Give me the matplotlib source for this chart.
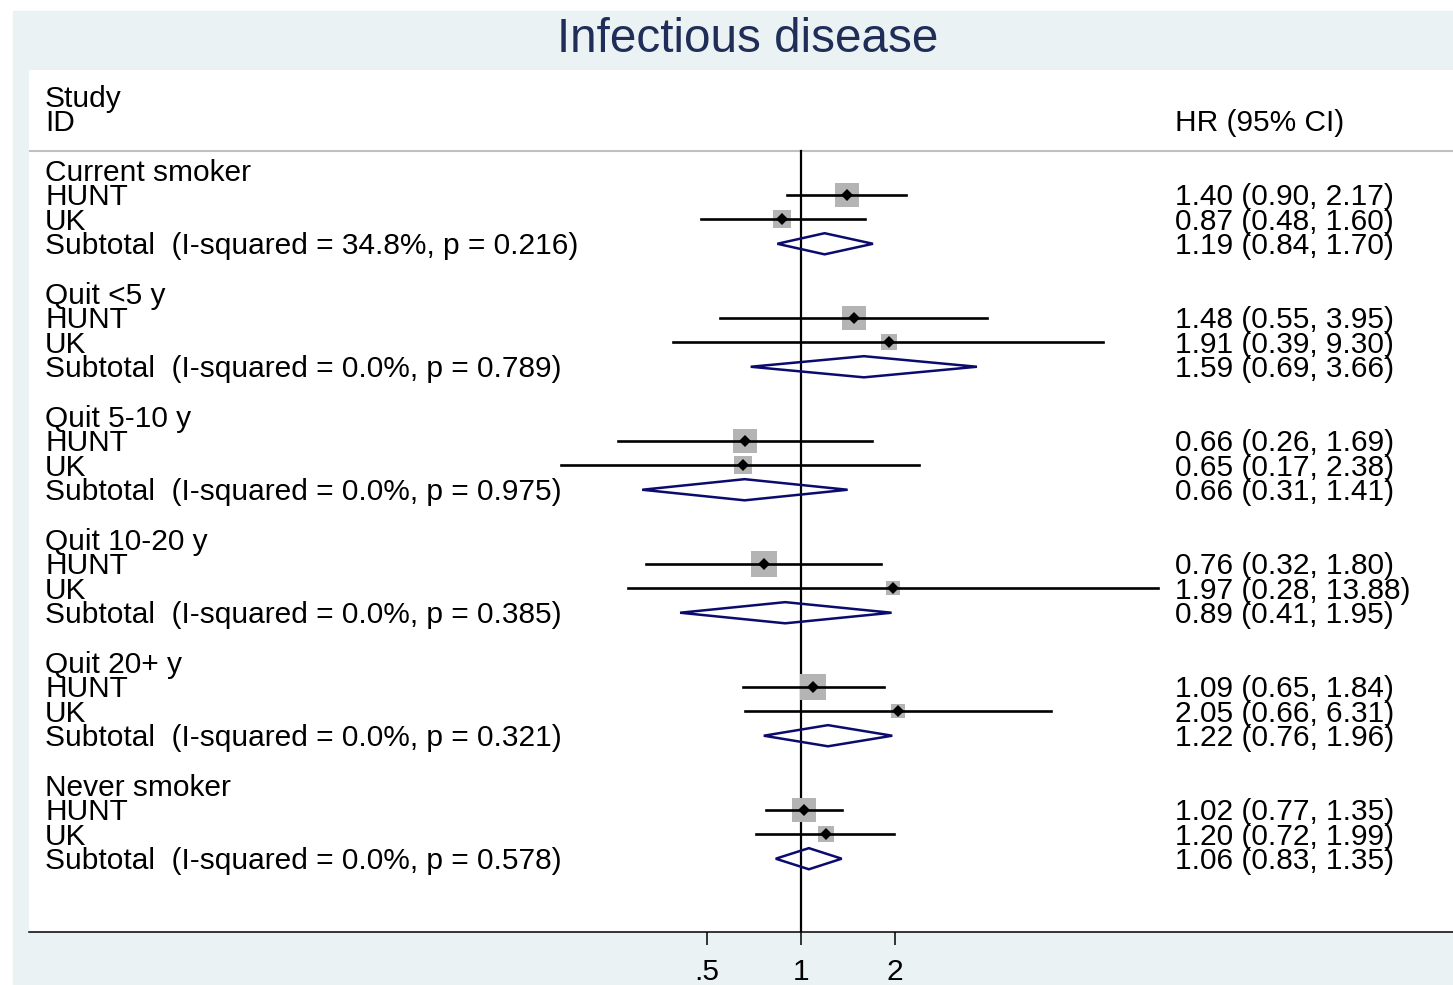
import numpy as np
import matplotlib.pyplot as plt
from matplotlib.patches import Rectangle, Polygon
from matplotlib.transforms import blended_transform_factory

plt.rcParams['font.family'] = ['Liberation Sans', 'DejaVu Sans']

# hazard ratios and 95% CI per smoking group
groups = ['Current smoker', 'Quit <5 y', 'Quit 5-10 y', 'Quit 10-20 y', 'Quit 20+ y', 'Never smoker']
hunt_hr = [1.40, 1.48, 0.66, 0.76, 1.09, 1.02]
hunt_lo = [0.90, 0.55, 0.26, 0.32, 0.65, 0.77]
hunt_hi = [2.17, 3.95, 1.69, 1.80, 1.84, 1.35]
uk_hr = [0.87, 1.91, 0.65, 1.97, 2.05, 1.20]
uk_lo = [0.48, 0.39, 0.17, 0.28, 0.66, 0.72]
uk_hi = [1.60, 9.30, 2.38, 13.88, 6.31, 1.99]
sub_hr = [1.19, 1.59, 0.66, 0.89, 1.22, 1.06]
sub_lo = [0.84, 0.69, 0.31, 0.41, 0.76, 0.83]
sub_hi = [1.70, 3.66, 1.41, 1.95, 1.96, 1.35]
i_squared = ['34.8', '0.0', '0.0', '0.0', '0.0', '0.0']
p_het = ['0.216', '0.789', '0.975', '0.385', '0.321', '0.578']
# study weights (%) within each subgroup
hunt_w = [62, 68, 64, 77.5, 77.5, 71]
uk_w = [38, 32, 36, 22.5, 22.5, 29]

W, H = 1453, 985
fig = plt.figure(figsize=(W / 100, H / 100), dpi=100)
fig.patches.append(Rectangle((13 / W, 1 - 984 / H), 1440 / W, 973 / H,
                             transform=fig.transFigure, color='#eaf2f3', zorder=-1))
fig.text(748 / W, 1 - 39 / H, 'Infectious disease', ha='center', va='center',
         fontsize=34.3, color='#1f2d58')

ax = fig.add_axes([29 / W, 1 - 932 / H, 1424 / W, 862 / H])
ax.set_zorder(2)
ax.set_facecolor('white')
ax.set_xscale('log', base=2)
ax.set_xlim(2 ** ((29 - 801) / 94), 2 ** ((1453 - 801) / 94))
ax.set_ylim(30.98, -4.065)
for s in ['top', 'left', 'right']:
    ax.spines[s].set_visible(False)
ax.spines['bottom'].set_linewidth(1.1)
ax.set_xticks([0.5, 1, 2])
ax.set_xticklabels(['.5', '1', '2'])
ax.xaxis.set_minor_locator(plt.NullLocator())
ax.tick_params(axis='x', length=9.4, width=1.1, pad=9, labelsize=21.5)
ax.set_yticks([])

fs = 21.5
off = 0.435  # baseline offset in rows
tl = blended_transform_factory(ax.transAxes, ax.transData)
xl = (45 - 29) / 1424
xr = (1175 - 29) / 1424


def label(row, left, right=None):
    ax.text(xl, row + off, left, transform=tl, fontsize=fs, va='baseline', ha='left')
    if right is not None:
        ax.text(xr, row + off, right, transform=tl, fontsize=fs, va='baseline', ha='left')


def ci_text(hr, lo, hi):
    return f'{hr:.2f} ({lo:.2f}, {hi:.2f})'


label(-3, 'Study')
label(-2, 'ID', 'HR (95% CI)')
ax.axhline(-0.77, color='#c0c0c0', lw=1.5)
ax.plot([1, 1], [-0.77, 30.98], color='black', lw=1.6, zorder=2)

row = 0
for g in range(len(groups)):
    label(row, groups[g])
    studies = [('HUNT', hunt_hr, hunt_lo, hunt_hi, hunt_w), ('UK', uk_hr, uk_lo, uk_hi, uk_w)]
    for k, (name, hr, lo, hi, w) in enumerate(studies):
        r = row + 1 + k
        label(r, name, ci_text(hr[g], lo[g], hi[g]))
        side = 2.95 * np.sqrt(w[g]) * 0.72
        ax.plot(hr[g], r, marker='s', ms=side, color='#b4b4b4', mew=0, zorder=3)
        ax.plot([lo[g], hi[g]], [r, r], color='black', lw=1.9, zorder=4)
        ax.plot(hr[g], r, marker='D', ms=6.5, color='black', mew=0, zorder=5)
    r = row + 3
    label(r, f'Subtotal  (I-squared = {i_squared[g]}%, p = {p_het[g]})',
          ci_text(sub_hr[g], sub_lo[g], sub_hi[g]))
    dh = 0.43
    ax.add_patch(Polygon([[sub_lo[g], r], [sub_hr[g], r - dh], [sub_hi[g], r], [sub_hr[g], r + dh]],
                         closed=True, fill=False, edgecolor='#0b0b6e', lw=1.8, zorder=4))
    row += 5

fig.savefig('out.png', dpi=100)
